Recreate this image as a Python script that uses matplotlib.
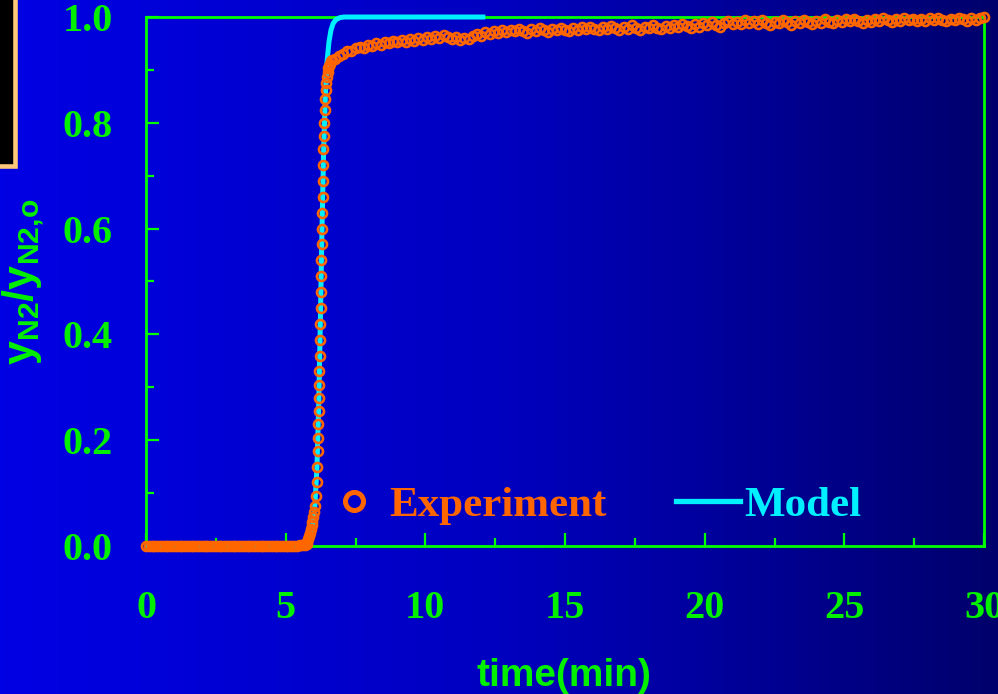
import matplotlib
matplotlib.use('Agg')
from matplotlib import pyplot as plt
from matplotlib.colors import LinearSegmentedColormap
from matplotlib.lines import Line2D
from matplotlib.patches import Rectangle
from matplotlib.ticker import MultipleLocator
import numpy as np

GREEN = '#00F000'
ORANGE = '#FF6600'
CYAN = '#00F0FF'

plt.rcParams['mathtext.fontset'] = 'custom'
plt.rcParams['mathtext.rm'] = 'Liberation Sans:bold'
plt.rcParams['mathtext.bf'] = 'Liberation Sans:bold'

# breakthrough measurement, N2 outlet fraction (normalised)
t_flat = [0.0, 0.1, 0.2, 0.3, 0.4, 0.5, 0.6, 0.7, 0.8, 0.9,
          1.0, 1.1, 1.2, 1.3, 1.4, 1.5, 1.6, 1.7, 1.8, 1.9,
          2.0, 2.1, 2.2, 2.3, 2.4, 2.5, 2.6, 2.7, 2.8, 2.9,
          3.0, 3.1, 3.2, 3.3, 3.4, 3.5, 3.6, 3.7, 3.8, 3.9,
          4.0, 4.1, 4.2, 4.3, 4.4, 4.5, 4.6, 4.7, 4.8, 4.9,
          5.0, 5.1, 5.2, 5.3, 5.4, 5.5, 5.6, 5.7]
y_flat = [0.0, 0.0, 0.0, 0.0, 0.0, 0.0, 0.0, 0.0, 0.0, 0.0,
          0.0, 0.0, 0.0, 0.0, 0.0, 0.0, 0.0, 0.0, 0.0, 0.0,
          0.0, 0.0, 0.0, 0.0, 0.0, 0.0, 0.0, 0.0, 0.0, 0.0,
          0.0, 0.0, 0.0, 0.0, 0.0, 0.0, 0.0, 0.0, 0.0, 0.0,
          0.0, 0.0, 0.0, 0.0, 0.0, 0.0, 0.0, 0.0, 0.0, 0.0,
          0.0, 0.0, 0.0, 0.0, 0.0, 0.001, 0.001, 0.002]

t_rise = [5.75, 5.78, 5.81, 5.84, 5.87, 5.90, 5.93, 5.96, 5.99, 6.02,
          6.05, 6.08, 6.11, 6.13, 6.15, 6.16, 6.17, 6.18, 6.19, 6.20,
          6.21, 6.22, 6.23, 6.24, 6.25, 6.26, 6.27, 6.28, 6.29, 6.30,
          6.31, 6.32, 6.33, 6.34, 6.35, 6.36, 6.38, 6.40, 6.42, 6.44,
          6.46, 6.48, 6.50, 6.53, 6.56, 6.59, 6.62, 6.65]
y_rise = [0.004, 0.008, 0.013, 0.019, 0.025, 0.032, 0.039, 0.046, 0.054, 0.064,
          0.076, 0.095, 0.12, 0.15, 0.18, 0.205, 0.23, 0.255, 0.28, 0.305,
          0.33, 0.36, 0.39, 0.42, 0.45, 0.48, 0.51, 0.54, 0.57, 0.60,
          0.63, 0.66, 0.69, 0.72, 0.75, 0.775, 0.80, 0.825, 0.845, 0.862,
          0.876, 0.887, 0.896, 0.903, 0.908, 0.912, 0.916, 0.919]

t_tail = [6.75, 6.90, 7.05, 7.20, 7.35, 7.50, 7.65, 7.80, 7.95, 8.10,
          8.25, 8.40, 8.55, 8.70, 8.85, 9.00, 9.15, 9.30, 9.45, 9.60,
          9.75, 9.90, 10.05, 10.20, 10.35, 10.50, 10.65, 10.80, 10.95, 11.10,
          11.25, 11.40, 11.55, 11.70, 11.85, 12.00, 12.15, 12.30, 12.45, 12.60,
          12.75, 12.90, 13.05, 13.20, 13.35, 13.50, 13.65, 13.80, 13.95, 14.10,
          14.25, 14.40, 14.55, 14.70, 14.85, 15.00, 15.15, 15.30, 15.45, 15.60,
          15.75, 15.90, 16.05, 16.20, 16.35, 16.50, 16.65, 16.80, 16.95, 17.10,
          17.25, 17.40, 17.55, 17.70, 17.85, 18.00, 18.15, 18.30, 18.45, 18.60,
          18.75, 18.90, 19.05, 19.20, 19.35, 19.50, 19.65, 19.80, 19.95, 20.10,
          20.25, 20.40, 20.55, 20.70, 20.85, 21.00, 21.15, 21.30, 21.45, 21.60,
          21.75, 21.90, 22.05, 22.20, 22.35, 22.50, 22.65, 22.80, 22.95, 23.10,
          23.25, 23.40, 23.55, 23.70, 23.85, 24.00, 24.15, 24.30, 24.45, 24.60,
          24.75, 24.90, 25.05, 25.20, 25.35, 25.50, 25.65, 25.80, 25.95, 26.10,
          26.25, 26.40, 26.55, 26.70, 26.85, 27.00, 27.15, 27.30, 27.45, 27.60,
          27.75, 27.90, 28.05, 28.20, 28.35, 28.50, 28.65, 28.80, 28.95, 29.10,
          29.25, 29.40, 29.55, 29.70, 29.85, 30.00]
y_tail = [0.921, 0.926, 0.931, 0.936, 0.935, 0.941, 0.944, 0.942, 0.948, 0.946,
          0.951, 0.947, 0.953, 0.950, 0.955, 0.952, 0.957, 0.953, 0.958, 0.955,
          0.960, 0.957, 0.963, 0.959, 0.965, 0.961, 0.966, 0.962, 0.958, 0.963,
          0.956, 0.961, 0.959, 0.964, 0.968, 0.965, 0.971, 0.968, 0.973, 0.970,
          0.975, 0.971, 0.976, 0.973, 0.978, 0.974, 0.970, 0.977, 0.973, 0.979,
          0.975, 0.972, 0.978, 0.975, 0.980, 0.976, 0.973, 0.979, 0.976, 0.981,
          0.977, 0.982, 0.978, 0.975, 0.981, 0.977, 0.983, 0.979, 0.976, 0.982,
          0.978, 0.984, 0.980, 0.976, 0.982, 0.979, 0.984, 0.980, 0.977, 0.983,
          0.980, 0.985, 0.981, 0.987, 0.983, 0.979, 0.986, 0.982, 0.988, 0.984,
          0.990, 0.985, 0.982, 0.988, 0.993, 0.986, 0.991, 0.987, 0.995, 0.989,
          0.992, 0.987, 0.994, 0.989, 0.985, 0.991, 0.988, 0.994, 0.990, 0.984,
          0.992, 0.988, 0.995, 0.990, 0.987, 0.993, 0.989, 0.996, 0.991, 0.988,
          0.994, 0.990, 0.996, 0.992, 0.997, 0.993, 0.989, 0.995, 0.991, 0.997,
          0.993, 0.998, 0.994, 0.990, 0.996, 0.992, 0.998, 0.994, 0.997, 0.993,
          0.996, 0.992, 0.998, 0.994, 0.999, 0.995, 0.992, 0.997, 0.994, 0.999,
          0.996, 0.993, 0.998, 0.995, 0.999, 1.000]

# model prediction
t_model = [0.0, 5.7, 5.85, 5.95, 6.05, 6.12, 6.18, 6.24, 6.30, 6.36, 6.42,
           6.48, 6.55, 6.62, 6.70, 6.80, 6.95, 7.1, 12.15]
y_model = [0.0, 0.0, 0.01, 0.03, 0.08, 0.15, 0.26, 0.42, 0.60, 0.75, 0.85,
           0.915, 0.953, 0.975, 0.988, 0.995, 0.999, 1.0, 1.0]

t_exp = t_flat + t_rise + t_tail
y_exp = y_flat + y_rise + y_tail

fig = plt.figure(figsize=(9.98, 6.94), dpi=100)

# blue slide background, fading to navy on the right
bg = fig.add_axes([0, 0, 1, 1], zorder=-10)
cmap = LinearSegmentedColormap.from_list('slide', ['#0000E4', '#0000C0', '#00006C'])
bg.imshow(np.linspace(0, 1, 256).reshape(1, -1), cmap=cmap, aspect='auto',
          extent=[0, 1, 0, 1])
bg.set_axis_off()

# leftover frame in the corner
fig.patches.append(Rectangle((-0.03, 0.7605), 0.0453, 0.3, facecolor='black',
                             edgecolor='#FFC878', linewidth=3.3,
                             transform=fig.transFigure, figure=fig))

ax = fig.add_axes([0.1463, 0.2133, 0.8397, 0.7622])
ax.set_facecolor('none')

ax.plot(t_model, y_model, color=CYAN, lw=3.6, zorder=3, clip_on=False,
        solid_capstyle='butt')
ax.plot(t_exp, y_exp, ls='none', marker='o', ms=6.5, mfc='none', mec=ORANGE,
        mew=1.9, zorder=4, clip_on=False)

ax.set_xlim(0, 30)
ax.set_ylim(0, 1.0)
ax.xaxis.set_major_locator(MultipleLocator(5))
ax.xaxis.set_minor_locator(MultipleLocator(2.5))
ax.yaxis.set_major_locator(MultipleLocator(0.2))
ax.yaxis.set_minor_locator(MultipleLocator(0.1))
ax.xaxis.set_major_formatter(lambda v, p: '%d' % v)
ax.yaxis.set_major_formatter(lambda v, p: '%.1f' % v)

for s in ax.spines.values():
    s.set_color('#00FF00')
    s.set_linewidth(2)
ax.tick_params(which='both', direction='in', color='#00FF00', width=1.6,
               top=False, right=False)
ax.tick_params(which='major', length=9.5)
ax.tick_params(which='minor', length=6)
ax.tick_params(axis='y', pad=24)
ax.tick_params(axis='x', pad=32)
for lab in ax.get_xticklabels() + ax.get_yticklabels():
    lab.set_family('Liberation Serif')
    lab.set_weight('bold')
    lab.set_size(29)
    lab.set_color(GREEN)

ax.set_xlabel('time(min)', family='Liberation Sans', weight='bold',
              fontsize=28, color=GREEN)
ax.set_ylabel(r'$\mathbf{y_{N2}/y_{N2{,}o}}$', fontsize=31, color=GREEN)
ax.xaxis.set_label_coords(0.499, -0.2125)
ax.yaxis.set_label_coords(-0.119, 0.5)

h_exp = Line2D([], [], ls='none', marker='o', ms=13, mfc='none', mec=ORANGE,
               mew=3.6)
h_mod = Line2D([], [], color=CYAN, lw=3.8)
leg = ax.legend([h_exp, h_mod], ['Experiment', 'Model'], ncol=2,
                loc='center left', bbox_to_anchor=(0.2095, 0.077),
                frameon=False, borderpad=0, borderaxespad=0,
                handlelength=1.5, handletextpad=0.08, columnspacing=1.6,
                prop={'family': 'Liberation Serif', 'weight': 'bold', 'size': 31})
leg.get_texts()[0].set_color(ORANGE)
leg.get_texts()[1].set_color(CYAN)

fig.savefig('out.png', dpi=100)
